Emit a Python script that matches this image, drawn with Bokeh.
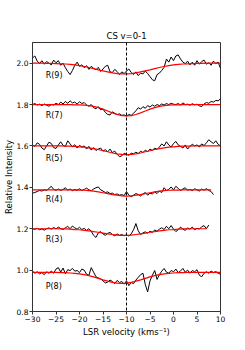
from bokeh.plotting import figure
from bokeh.models import Span, Range1d, FixedTicker
from bokeh.core.properties import value
from bokeh.embed import file_html
from bokeh.resources import INLINE

# ---------------- data ----------------
# spectral channels (km/s), 0.5 km/s spacing
velocity = [-30 + 0.5 * i for i in range(81)]
fit_velocity = list(range(-30, 11))

r9 = [2.025, 2.035, 2.010, 1.998, 2.012, 1.995, 2.008, 2.000, 1.992, 2.015,
      2.002, 2.012, 1.990, 2.000, 1.978, 1.960, 1.945, 1.965, 1.990, 2.005,
      1.985, 1.992, 1.978, 1.988, 1.970, 1.985, 1.975, 1.968, 1.980, 1.960,
      1.972, 1.985, 1.990, 1.958, 1.955, 1.970, 1.960, 1.945, 1.958, 1.950,
      1.962, 1.972, 1.955, 1.945, 1.958, 1.940, 1.952, 1.948, 1.962, 1.950,
      1.935, 1.920, 1.915, 1.945, 1.952, 1.965, 1.980, 2.020, 2.005, 2.030,
      2.012, 2.035, 2.040, 2.020, 2.005, 1.998, 2.010, 1.992, 2.005, 1.990,
      2.012, 1.995, 2.008, 2.015, 1.995, 2.002, 1.990, 2.010, 1.998, 2.005,
      1.975]
r7 = [1.800, 1.805, 1.798, 1.802, 1.795, 1.803, 1.797, 1.792, 1.800, 1.798,
      1.806, 1.800, 1.812, 1.803, 1.815, 1.806, 1.818, 1.808, 1.812, 1.802,
      1.814, 1.805, 1.810, 1.798, 1.792, 1.800, 1.785, 1.780, 1.790, 1.775,
      1.778, 1.762, 1.752, 1.750, 1.765, 1.758, 1.752, 1.755, 1.748, 1.750,
      1.745, 1.752, 1.748, 1.758, 1.770, 1.785, 1.778, 1.790, 1.782, 1.795,
      1.788, 1.798, 1.792, 1.800, 1.795, 1.803, 1.798, 1.805, 1.800, 1.806,
      1.802, 1.800, 1.805, 1.798, 1.808, 1.800, 1.802, 1.797, 1.804, 1.799,
      1.802, 1.794, 1.790, 1.803, 1.810, 1.806, 1.815, 1.812, 1.820, 1.818,
      1.828]
r5 = [1.605, 1.598, 1.615, 1.608, 1.590, 1.582, 1.600, 1.618, 1.612, 1.592,
      1.588, 1.605, 1.620, 1.603, 1.598, 1.625, 1.610, 1.596, 1.606, 1.590,
      1.603, 1.595, 1.600, 1.585, 1.598, 1.580, 1.592, 1.578, 1.585, 1.590,
      1.575, 1.582, 1.572, 1.585, 1.568, 1.575, 1.560, 1.548, 1.552, 1.565,
      1.560, 1.555, 1.565, 1.562, 1.570, 1.563, 1.575, 1.568, 1.580, 1.572,
      1.585, 1.578, 1.590, 1.583, 1.595, 1.610, 1.600, 1.620, 1.605, 1.595,
      1.612, 1.622, 1.605, 1.598, 1.590, 1.605, 1.585, 1.598, 1.608, 1.600,
      1.605, 1.595, 1.610, 1.602, 1.615, 1.630, 1.620, 1.612, 1.625, 1.608,
      1.600]
r4 = [1.372, 1.375, 1.380, 1.385, 1.382, 1.388, 1.385, 1.395, 1.405, 1.390,
      1.386, 1.392, 1.385, 1.390, 1.398, 1.386, 1.392, 1.384, 1.390, 1.386,
      1.393, 1.385, 1.390, 1.396, 1.388, 1.384, 1.392, 1.398, 1.402, 1.388,
      1.382, 1.375, 1.378, 1.370, 1.372, 1.365, 1.368, 1.362, 1.365, 1.360,
      1.380, 1.362, 1.355, 1.362, 1.370, 1.365, 1.358, 1.368, 1.375, 1.362,
      1.372, 1.368, 1.378, 1.370, 1.382, 1.375, 1.398, 1.385, 1.390, 1.402,
      1.388, 1.405, 1.395, 1.385, 1.392, 1.398, 1.386, 1.390, 1.384, 1.393,
      1.388, 1.382, 1.392, 1.386, 1.394, 1.385, 1.380, 1.365]
r3 = [1.200, 1.197, 1.202, 1.195, 1.199, 1.193, 1.200, 1.204, 1.198, 1.206,
      1.199, 1.208, 1.201, 1.196, 1.205, 1.211, 1.200, 1.213, 1.204, 1.198,
      1.207, 1.196, 1.202, 1.192, 1.200, 1.188, 1.168, 1.158, 1.180, 1.186,
      1.175, 1.168, 1.178, 1.182, 1.172, 1.166, 1.175, 1.168, 1.172, 1.166,
      1.170, 1.165, 1.175, 1.195, 1.225, 1.190, 1.172, 1.180, 1.185, 1.178,
      1.188, 1.182, 1.194, 1.188, 1.198, 1.205, 1.196, 1.212, 1.200, 1.215,
      1.198, 1.186, 1.195, 1.208, 1.198, 1.192, 1.204, 1.198, 1.208, 1.195,
      1.202, 1.198, 1.210, 1.215, 1.200, 1.218]
p8 = [0.995, 0.985, 0.992, 0.982, 0.988, 0.978, 0.992, 0.985, 0.995, 0.985,
      1.005, 1.012, 0.990, 1.010, 0.982, 1.002, 0.998, 1.008, 0.995, 0.998,
      0.988, 1.005, 1.000, 0.980, 0.975, 1.012, 0.990, 0.968, 0.962, 0.958,
      0.948, 0.938, 0.942, 0.952, 0.945, 0.935, 0.950, 0.940, 0.945, 0.932,
      0.948, 0.925, 0.940, 0.935, 0.952, 0.965, 0.978, 0.985, 0.930, 0.895,
      0.948, 0.975, 0.998, 0.955, 0.978, 0.995, 1.008, 0.990, 0.985, 0.998,
      0.992, 1.005, 0.988, 0.996, 1.008, 0.990, 1.000, 0.985, 0.998, 0.992,
      1.002, 0.975, 0.968, 0.985, 0.992, 0.985, 0.995, 0.988, 0.993, 0.985,
      0.980]

fit_r9 = [2.000, 2.000, 2.000, 1.999, 1.999, 1.998, 1.997, 1.996, 1.994, 1.992,
          1.988, 1.984, 1.979, 1.974, 1.968, 1.963, 1.958, 1.953, 1.950, 1.948,
          1.948, 1.950, 1.953, 1.958, 1.963, 1.968, 1.974, 1.979, 1.984, 1.988,
          1.992, 1.994, 1.996, 1.997, 1.998, 1.999, 1.999, 2.000, 2.000, 2.000, 2.000]
fit_r7 = [1.800, 1.800, 1.800, 1.800, 1.800, 1.800, 1.800, 1.800, 1.800, 1.799,
          1.799, 1.797, 1.795, 1.791, 1.785, 1.778, 1.769, 1.760, 1.752, 1.747,
          1.745, 1.747, 1.752, 1.760, 1.769, 1.778, 1.785, 1.791, 1.795, 1.797,
          1.799, 1.799, 1.800, 1.800, 1.800, 1.800, 1.800, 1.800, 1.800, 1.800, 1.800]
fit_r5 = [1.600, 1.600, 1.600, 1.600, 1.600, 1.600, 1.600, 1.599, 1.599, 1.598,
          1.596, 1.594, 1.591, 1.587, 1.583, 1.577, 1.572, 1.566, 1.562, 1.559,
          1.558, 1.559, 1.562, 1.566, 1.572, 1.577, 1.583, 1.587, 1.591, 1.594,
          1.596, 1.598, 1.599, 1.599, 1.600, 1.600, 1.600, 1.600, 1.600, 1.600, 1.600]
fit_r4 = [1.388, 1.388, 1.388, 1.388, 1.388, 1.388, 1.388, 1.388, 1.388, 1.387,
          1.387, 1.386, 1.384, 1.382, 1.378, 1.374, 1.370, 1.365, 1.362, 1.359,
          1.358, 1.359, 1.362, 1.365, 1.370, 1.374, 1.378, 1.382, 1.384, 1.386,
          1.387, 1.387, 1.388, 1.388, 1.388, 1.388, 1.388, 1.388, 1.388]
fit_r3 = [1.200, 1.200, 1.200, 1.200, 1.200, 1.200, 1.199, 1.199, 1.198, 1.196,
          1.195, 1.192, 1.190, 1.186, 1.183, 1.179, 1.175, 1.172, 1.169, 1.168,
          1.168, 1.169, 1.172, 1.175, 1.179, 1.183, 1.186, 1.190, 1.192, 1.195,
          1.196, 1.198, 1.199, 1.199, 1.200, 1.200, 1.200, 1.200]
fit_p8 = [0.989, 0.989, 0.989, 0.989, 0.989, 0.989, 0.988, 0.988, 0.986, 0.984,
          0.982, 0.978, 0.973, 0.967, 0.960, 0.953, 0.947, 0.941, 0.937, 0.936,
          0.937, 0.941, 0.947, 0.953, 0.960, 0.967, 0.973, 0.978, 0.982, 0.984,
          0.986, 0.988, 0.988, 0.989, 0.989, 0.989, 0.989, 0.989, 0.989, 0.989, 0.989]

line_names = ["R(9)", "R(7)", "R(5)", "R(4)", "R(3)", "P(8)"]
spectra = [r9, r7, r5, r4, r3, p8]
fits = [fit_r9, fit_r7, fit_r5, fit_r4, fit_r3, fit_p8]

x_ticks = [-30, -25, -20, -15, -10, -5, 0, 5, 10]
y_ticks = [0.8, 1.0, 1.2, 1.4, 1.6, 1.8, 2.0]
line_center = -10

# label placement (data coordinates)
label_x = -27.2
label_y = [1.941, 1.748, 1.541, 1.341, 1.150, 0.922]

# ---------------- plot ----------------
FONT = "DejaVu Sans"
p = figure(width=237, height=342, output_backend="svg", toolbar_location=None,
           x_range=Range1d(-30, 10), y_range=Range1d(0.8, 2.1),
           min_border_left=31, min_border_right=17, min_border_top=42,
           min_border_bottom=31, title="CS v=0-1",
           x_axis_label="LSR velocity (kms\u207b\u00b9)",
           y_axis_label="Relative Intensity")
p.background_fill_color = "white"
p.border_fill_color = "white"
p.outline_line_color = "#333333"
p.outline_line_width = 1
p.xgrid.grid_line_color = None
p.ygrid.grid_line_color = None

p.title.text_font = FONT
p.title.text_font_size = "8.5px"
p.title.text_font_style = "normal"
p.title.align = "center"
p.title.standoff = 4
p.title.text_color = "black"

for ax in (p.xaxis[0], p.yaxis[0]):
    ax.axis_line_color = "#333333"
    ax.major_tick_line_color = "#333333"
    ax.major_tick_out = 3
    ax.major_tick_in = 0
    ax.minor_tick_line_color = None
    ax.major_label_text_font = FONT
    ax.major_label_text_font_size = "7.5px"
    ax.major_label_text_color = "black"
    ax.axis_label_text_font = FONT
    ax.axis_label_text_font_size = "8.5px"
    ax.axis_label_text_font_style = "normal"
    ax.axis_label_text_color = "black"
    ax.major_label_standoff = 1

p.xaxis.axis_label_standoff = 2
p.yaxis.axis_label_standoff = 0

p.xaxis.ticker = FixedTicker(ticks=x_ticks)
p.yaxis.ticker = FixedTicker(ticks=y_ticks)
p.xaxis.major_label_overrides = {t: (str(t).replace("-", "\u2212")) for t in x_ticks}
p.yaxis.major_label_overrides = {t: f"{t:.1f}" for t in y_ticks}

for spec in spectra:
    p.line(velocity[:len(spec)], spec, line_color="black", line_width=1)
for fit in fits:
    p.line(fit_velocity[:len(fit)], fit, line_color="red", line_width=1.2)

p.add_layout(Span(location=line_center, dimension="height", line_color="black",
                  line_dash="3 2", line_width=1))

p.text(x=[label_x] * len(line_names), y=label_y, text=line_names,
       text_font=value(FONT), text_font_size=value("8px"),
       text_baseline="middle", text_align="left", text_color="black")

open("out.html", "w").write(file_html(p, INLINE))
